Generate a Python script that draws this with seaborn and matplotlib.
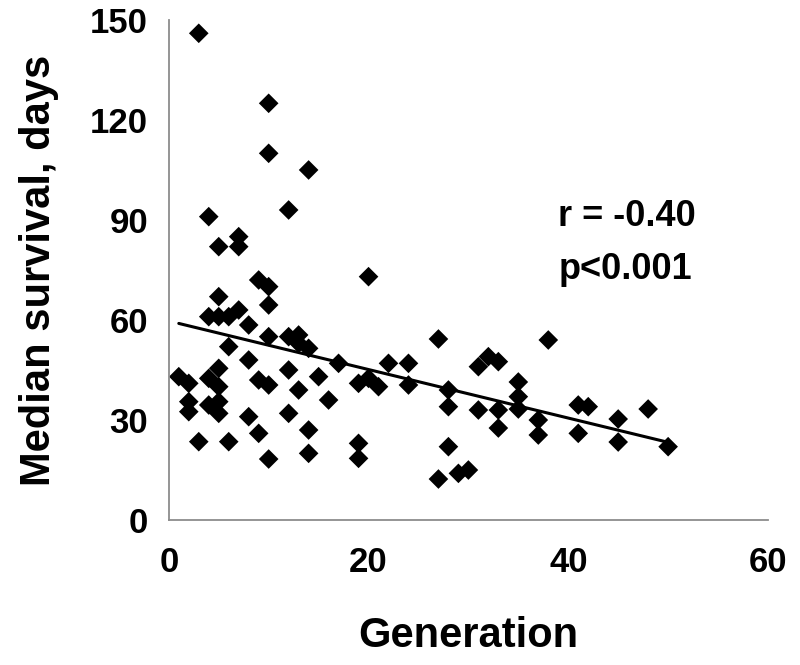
import matplotlib
matplotlib.use("Agg")
import matplotlib.pyplot as plt
import seaborn as sns
import pandas as pd

# data
generation = [1, 2, 2, 2, 3, 3, 4, 4, 4, 4,
              5, 5, 5, 5, 5, 5, 5, 6, 6, 6,
              7, 7, 7, 8, 8, 8, 9, 9, 9, 10,
              10, 10, 10, 10, 10, 10, 12, 12, 12, 12,
              13, 13, 13, 14, 14, 14, 14, 15, 16, 17,
              19, 19, 19, 20, 20, 21, 22, 24, 24, 27,
              27, 28, 28, 28, 29, 30, 31, 31, 32, 33,
              33, 33, 35, 35, 35, 37, 37, 38, 41, 42,
              41, 45, 45, 48, 50]
survival = [43, 41, 35.5, 32.5, 146, 23.5, 91, 61, 42.5, 34.5,
            82, 67, 61, 45.5, 40, 35.5, 32, 61, 52, 23.5,
            85, 82, 63, 58.5, 48, 31, 72, 42, 26, 125,
            110, 70, 64.5, 55, 40.5, 18.3, 93, 55, 45, 32,
            55.5, 53, 39, 105, 51.5, 27, 20, 43, 36, 47,
            41, 23, 18.5, 73, 42.5, 40, 47, 47, 40.5, 54.3,
            12.3, 39, 34, 22, 14, 15, 46, 33, 49, 47.5,
            33, 27.6, 41.4, 37, 33.3, 30, 25.5, 54, 34.5, 34,
            26, 30.3, 23.4, 33.3, 22]
stat_lines = ["r = -0.40", "p<0.001"]

df = pd.DataFrame({"Generation": generation, "Survival": survival})

sns.set_style("white")
plt.rcParams["font.family"] = ["Liberation Sans", "DejaVu Sans"]
plt.rcParams["font.weight"] = "bold"
plt.rcParams["text.color"] = "black"
plt.rcParams["axes.labelcolor"] = "black"
plt.rcParams["xtick.labelcolor"] = "black"
plt.rcParams["ytick.labelcolor"] = "black"

fig = plt.figure(figsize=(8, 6.65), dpi=100)
ax = fig.add_axes([0.211, 0.218, 0.749, 0.752])

sns.regplot(data=df, x="Generation", y="Survival", ax=ax, ci=None,
            marker="D", color="black",
            scatter_kws={"s": 100, "edgecolor": "none", "alpha": 1},
            line_kws={"linewidth": 2.2, "color": "black"})

ax.set_xlim(0, 60)
ax.set_ylim(0, 150)
ax.set_xticks([0, 20, 40, 60])
ax.set_yticks([0, 30, 60, 90, 120, 150])

for side in ["top", "right"]:
    ax.spines[side].set_visible(False)
for side in ["left", "bottom"]:
    ax.spines[side].set_color("#8c8c8c")
    ax.spines[side].set_linewidth(1.3)

ax.tick_params(axis="x", direction="out", length=11, width=1.2, color="#8c8c8c",
               labelsize=25, pad=8)
ax.tick_params(axis="y", direction="out", length=10, width=1.2, color="#8c8c8c",
               labelsize=25, pad=5)
for lbl in ax.get_xticklabels() + ax.get_yticklabels():
    lbl.set_fontweight("bold")

ax.set_xlabel("Generation", fontsize=30, fontweight="bold", labelpad=26)
ax.set_ylabel("Median survival, days", fontsize=30, fontweight="bold", labelpad=22)

ax.text(39, 91, stat_lines[0], fontsize=26, fontweight="bold", va="center", ha="left")
ax.text(39, 75, stat_lines[1], fontsize=26, fontweight="bold", va="center", ha="left")

fig.savefig("out.png", dpi=100)
